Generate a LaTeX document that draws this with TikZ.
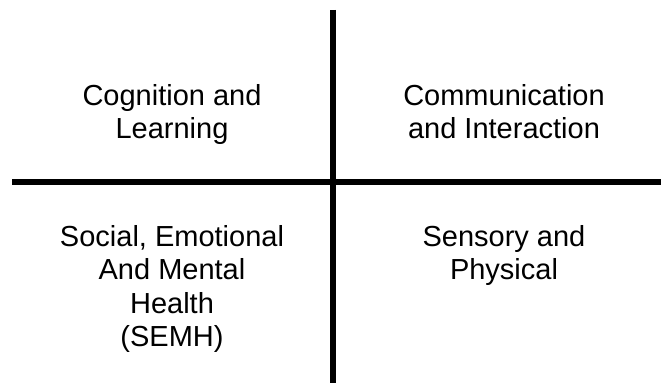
\documentclass[tikz,border=0pt]{standalone}
\usepackage{fontspec}
\setmainfont{Liberation Sans}
\usepackage{tikz}
\usetikzlibrary{positioning}
\tikzstyle{quadrant} = [align=center, inner sep=0pt, anchor=base, font=\fontsize{29}{33.5}\selectfont]
\tikzstyle{divider} = [line width=5.5pt, black]

\begin{document}
\begin{tikzpicture}[x=1pt, y=1pt]

\useasboundingbox (0,0) rectangle (661,383);

\coordinate (top) at (333,373);
\coordinate (bottom) at (333,0);
\coordinate (left) at (12,201);
\coordinate (right) at (661,201);

\node (cognition) [quadrant] at (172,244) {Cognition and\\Learning};
\node (communication) [quadrant] at (504,244) {Communication\\and Interaction};
\node (semh) [quadrant] at (172,36.5) {Social, Emotional\\And Mental\\Health\\(SEMH)};
\node (sensory) [quadrant] at (504,103) {Sensory and\\Physical};

\draw [divider] (top) -- (bottom);
\draw [divider] (left) -- (right);

\end{tikzpicture}
\end{document}
